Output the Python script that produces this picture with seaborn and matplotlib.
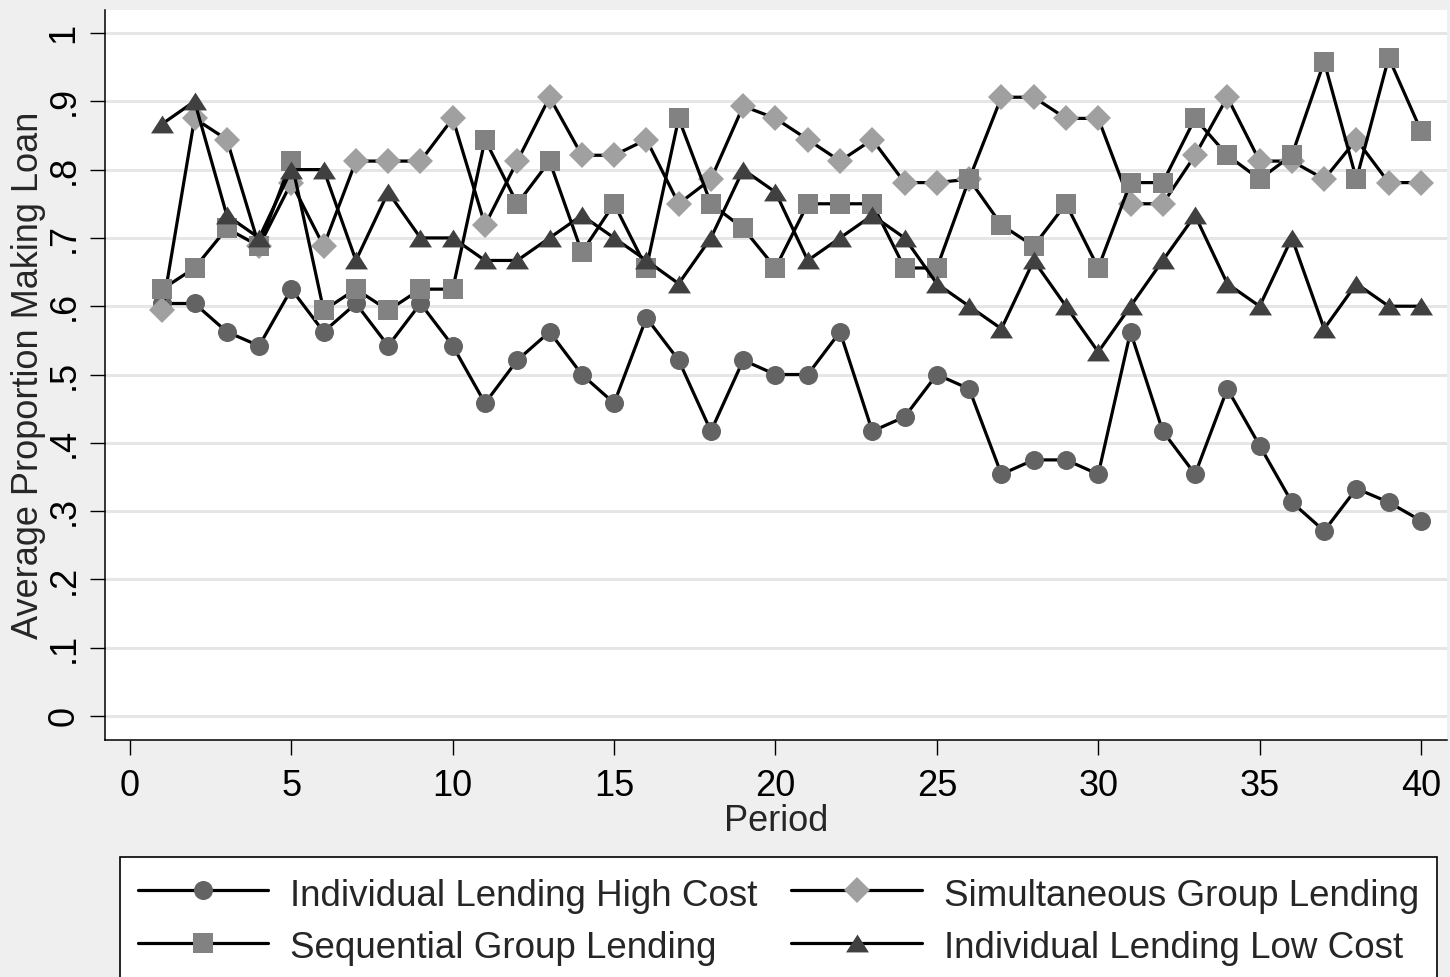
import seaborn as sns
import matplotlib.pyplot as plt
import pandas as pd

# values
periods = list(range(1, 41))

high_cost = [0.604, 0.604, 0.5625, 0.542, 0.625, 0.5625, 0.604, 0.542, 0.604, 0.542,
             0.458, 0.521, 0.5625, 0.5, 0.458, 0.583, 0.521, 0.417, 0.521, 0.5,
             0.5, 0.5625, 0.417, 0.438, 0.5, 0.479, 0.354, 0.375, 0.375, 0.354,
             0.5625, 0.417, 0.354, 0.479, 0.396, 0.313, 0.271, 0.333, 0.313, 0.286]
simultaneous = [0.594, 0.875, 0.844, 0.688, 0.781, 0.688, 0.8125, 0.8125, 0.8125, 0.875,
                0.719, 0.8125, 0.906, 0.821, 0.821, 0.844, 0.75, 0.786, 0.893, 0.875,
                0.844, 0.8125, 0.844, 0.781, 0.781, 0.786, 0.906, 0.906, 0.875, 0.875,
                0.75, 0.75, 0.821, 0.906, 0.8125, 0.8125, 0.786, 0.844, 0.781, 0.781]
sequential = [0.625, 0.656, 0.714, 0.688, 0.8125, 0.594, 0.625, 0.594, 0.625, 0.625,
              0.844, 0.75, 0.8125, 0.679, 0.75, 0.656, 0.875, 0.75, 0.714, 0.656,
              0.75, 0.75, 0.75, 0.656, 0.656, 0.786, 0.719, 0.688, 0.75, 0.656,
              0.781, 0.781, 0.875, 0.821, 0.786, 0.821, 0.958, 0.786, 0.964, 0.857]
low_cost = [0.867, 0.9, 0.733, 0.7, 0.8, 0.8, 0.667, 0.767, 0.7, 0.7,
            0.667, 0.667, 0.7, 0.733, 0.7, 0.667, 0.633, 0.7, 0.8, 0.767,
            0.667, 0.7, 0.733, 0.7, 0.633, 0.6, 0.567, 0.667, 0.6, 0.533,
            0.6, 0.667, 0.733, 0.633, 0.6, 0.7, 0.567, 0.633, 0.6, 0.6]

labels = ["Individual Lending High Cost", "Simultaneous Group Lending",
          "Sequential Group Lending", "Individual Lending Low Cost"]
y_ticks = [0, .1, .2, .3, .4, .5, .6, .7, .8, .9, 1]
y_ticklabels = ["0", ".1", ".2", ".3", ".4", ".5", ".6", ".7", ".8", ".9", "1"]
x_ticks = [0, 5, 10, 15, 20, 25, 30, 35, 40]

sns.set_style("white")
plt.rcParams['font.family'] = ['Liberation Sans', 'DejaVu Sans']

fig = plt.figure(figsize=(14.5, 9.77), dpi=100, facecolor='#EFEFEF')
ax = fig.add_axes([105 / 1450, 1 - 740 / 977, 1342 / 1450, 730 / 977])
ax.set_facecolor('white')

triangle = [(-1, -0.78), (1, -0.78), (0, 0.78)]
styles = [
    (high_cost, 'o', '#636363', 13.7),
    (simultaneous, 'D', '#A0A0A0', 13.4),
    (sequential, 's', '#828282', 14.6),
    (low_cost, triangle, '#404040', 16.5),
]

for lab, (vals, mk, col, ms) in zip(labels, styles):
    df = pd.DataFrame({'Period': periods, 'value': vals})
    sns.lineplot(data=df, x='Period', y='value', ax=ax, color='black',
                 linewidth=2.3, marker=mk, markersize=ms,
                 markerfacecolor=col, markeredgecolor=col,
                 markeredgewidth=0, label=lab)

if ax.get_legend() is not None:
    ax.get_legend().remove()

ax.set_xlim(-0.775, 40.806)
ax.set_ylim(-0.0351, 1.0337)
ax.set_xticks(x_ticks)
ax.set_xticklabels([str(t) for t in x_ticks])
ax.set_yticks(y_ticks)
ax.set_yticklabels(y_ticklabels, rotation=90, va='center')

ax.tick_params(axis='both', direction='out', length=10.8, width=1,
               color='black', labelsize=26, labelcolor='black')
ax.tick_params(axis='y', pad=6, left=True)
ax.tick_params(axis='x', pad=10, bottom=True)

ax.yaxis.grid(True, color='#E6E6E6', linewidth=2.2)
ax.xaxis.grid(False)
ax.set_axisbelow(True)

for side in ['top', 'right']:
    ax.spines[side].set_visible(False)
for side in ['left', 'bottom']:
    ax.spines[side].set_color('black')
    ax.spines[side].set_linewidth(1.1)

ax.set_xlabel('Period', fontsize=26)
ax.set_ylabel('Average Proportion Making Loan', fontsize=26)
ax.xaxis.set_label_coords(0.5, -0.087)
ax.yaxis.set_label_coords(-0.044, 0.5)

handles, hlabels = ax.get_legend_handles_labels()
order = [0, 2, 1, 3]
leg = fig.legend([handles[i] for i in order], [hlabels[i] for i in order],
                 ncol=2, mode='expand', loc='upper left',
                 bbox_to_anchor=(120 / 1450, 0, 1317 / 1450, 1 - 857 / 977),
                 bbox_transform=fig.transFigure, frameon=True, fancybox=False,
                 edgecolor='black', facecolor='white', framealpha=1,
                 fontsize=26.5, handlelength=3.55, handletextpad=0.6,
                 handleheight=1.2, borderpad=0.48, labelspacing=0.36,
                 borderaxespad=0)
leg.get_frame().set_linewidth(1.2)

fig.savefig('out.png', dpi=100, facecolor=fig.get_facecolor())
